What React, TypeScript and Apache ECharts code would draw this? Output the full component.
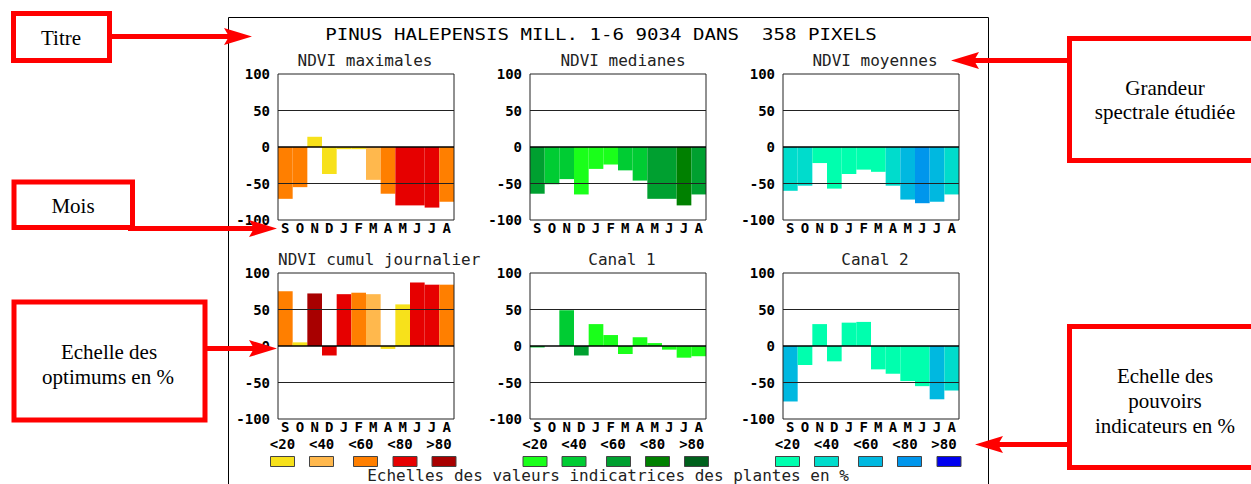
import React, { useEffect, useRef } from "react";
import * as echarts from "echarts";

// ---------- data ----------
const MONTHS = ["S", "O", "N", "D", "J", "F", "M", "A", "M", "J", "J", "A"];
const TICKS = [-100, -50, 0, 50, 100];
const TITLE = "PINUS HALEPENSIS MILL. 1-6 9034 DANS  358 PIXELS";
const FOOTER = "Echelles des valeurs indicatrices des plantes en %";
const PANEL_TITLES = [
  "NDVI maximales",
  "NDVI medianes",
  "NDVI moyennes",
  "NDVI cumul journalier",
  "Canal 1",
  "Canal 2",
];
const LEGEND_LABELS = ["<20", "<40", "<60", "<80", ">80"];

// values (%), and class index (0..4 -> <20 .. >80) per month
const MAX_VALUES = [-71, -55, 14, -37, -3, -3, -45, -64, -80, -80, -83, -75];
const MAX_CLASSES = [2, 2, 0, 0, 0, 0, 1, 2, 3, 3, 3, 2];
const MED_VALUES = [-64, -51, -44, -65, -30, -24, -32, -46, -71, -71, -80, -65];
const MED_CLASSES = [2, 1, 1, 0, 0, 0, 1, 1, 2, 2, 3, 2];
const MOY_VALUES = [-60, -53, -22, -57, -37, -31, -34, -53, -72, -77, -75, -65];
const MOY_CLASSES = [1, 1, 0, 0, 0, 0, 0, 1, 2, 3, 2, 1];
const CUM_VALUES = [75, 5, 72, -13, 71, 73, 71, -4, 57, 87, 84, 84];
const CUM_CLASSES = [2, 0, 4, 3, 3, 2, 1, 0, 0, 3, 3, 2];
const C1_VALUES = [-2, 0, 49, -13, 30, 15, -11, 12, 4, -5, -16, -14];
const C1_CLASSES = [1, 0, 1, 2, 0, 0, 0, 0, 0, 0, 0, 0];
const C2_VALUES = [-76, -26, 30, -21, 32, 33, -32, -38, -48, -55, -73, -61];
const C2_CLASSES = [2, 0, 0, 0, 0, 0, 0, 0, 0, 0, 2, 1];

// ---------- styles ----------
const WARM = ["#f7e11b", "#ffb84d", "#ff7f00", "#e60000", "#a80000"];
const GREEN = ["#1aff1a", "#00cc33", "#00a030", "#008000", "#00601c"];
const BLUE = ["#00ffae", "#00dccc", "#00b8e0", "#0096ec", "#0000f0"];
const RED = "#ff0000";
const MONO = "DejaVu Sans Mono";
const SERIF = "Liberation Serif";

const GRID_LEFT = [278, 530, 783];
const GRID_TOP = [74, 273];
const GRID_W = 176;
const GRID_H = 146;

const PANELS = [
  { values: MAX_VALUES, classes: MAX_CLASSES, palette: WARM },
  { values: MED_VALUES, classes: MED_CLASSES, palette: GREEN },
  { values: MOY_VALUES, classes: MOY_CLASSES, palette: BLUE },
  { values: CUM_VALUES, classes: CUM_CLASSES, palette: WARM },
  { values: C1_VALUES, classes: C1_CLASSES, palette: GREEN },
  { values: C2_VALUES, classes: C2_CLASSES, palette: BLUE },
];

const SUBTITLE_POS = [
  { x: 365, y: 60, align: "center" },
  { x: 623, y: 60, align: "center" },
  { x: 875, y: 60, align: "center" },
  { x: 278, y: 259, align: "left" },
  { x: 622, y: 259, align: "center" },
  { x: 875, y: 259, align: "center" },
];

const LEGEND_PALETTES = [WARM, GREEN, BLUE];
const LEGEND_LABEL_X = [
  [282.5, 321.6, 360.8, 400, 439],
  [535, 574, 613, 652.5, 691.8],
  [787.5, 826.5, 865.8, 905, 944],
];
const LEGEND_BOX_X = [
  [270, 309, 353, 392.5, 431.5],
  [522.5, 561.5, 606, 645, 684],
  [775, 814, 858, 897, 936.5],
];

function txt(
  text: string,
  x: number,
  y: number,
  o: { size?: number; family?: string; weight?: string; align?: string; fill?: string; scaleX?: number } = {}
) {
  const align = o.align || "center";
  return {
    type: "text",
    x,
    y,
    scaleX: o.scaleX || 1,
    z: 20,
    silent: true,
    style: {
      text,
      x: 0,
      y: 0,
      fill: o.fill || "#000",
      fontSize: o.size || 16,
      fontFamily: o.family || MONO,
      fontWeight: o.weight || "normal",
      align,
      textAlign: align,
      verticalAlign: "middle",
      textVerticalAlign: "middle",
    },
  };
}

function redRect(x: number, y: number, w: number, h: number) {
  return {
    type: "rect",
    z: 15,
    silent: true,
    shape: { x, y, width: w, height: h },
    style: { fill: "none", stroke: RED, lineWidth: 5 },
  };
}

function redLine(x1: number, y1: number, x2: number, y2: number) {
  return {
    type: "line",
    z: 15,
    silent: true,
    shape: { x1, y1, x2, y2 },
    style: { stroke: RED, lineWidth: 5 },
  };
}

function arrowHead(tipX: number, y: number, dir: number) {
  // dir = 1 pointing right, -1 pointing left
  const back = tipX - dir * 28;
  const notch = tipX - dir * 23;
  return {
    type: "polygon",
    z: 16,
    silent: true,
    shape: {
      points: [
        [back, y - 8.5],
        [tipX, y],
        [back, y + 8.5],
        [notch, y],
      ],
    },
    style: { fill: RED },
  };
}

function buildOption() {
  const grids: any[] = [];
  const xAxes: any[] = [];
  const yAxes: any[] = [];
  const series: any[] = [];

  PANELS.forEach((p, i) => {
    const col = i % 3;
    const row = Math.floor(i / 3);
    grids.push({
      left: GRID_LEFT[col],
      top: GRID_TOP[row],
      width: GRID_W,
      height: GRID_H,
      show: true,
      z: 5,
      backgroundColor: "transparent",
      borderColor: "#222",
      borderWidth: 1,
    });
    xAxes.push({
      type: "category",
      gridIndex: i,
      data: MONTHS,
      axisLine: { show: false },
      axisTick: { show: false },
      splitLine: { show: false },
      axisLabel: {
        interval: 0,
        margin: 1,
        color: "#000",
        fontFamily: MONO,
        fontWeight: "bold",
        fontSize: 14,
      },
    });
    yAxes.push({
      type: "value",
      gridIndex: i,
      min: TICKS[0],
      max: TICKS[TICKS.length - 1],
      interval: 50,
      axisLine: { show: false },
      axisTick: { show: false },
      splitLine: { show: false },
      axisLabel: {
        margin: 8,
        color: "#000",
        fontFamily: MONO,
        fontWeight: "bold",
        fontSize: 14,
      },
    });
    series.push({
      type: "bar",
      xAxisIndex: i,
      yAxisIndex: i,
      barCategoryGap: "0%",
      barWidth: "100%",
      data: p.values.map((v, k) => ({
        value: v,
        itemStyle: { color: p.palette[p.classes[k]] },
      })),
      markLine: {
        silent: true,
        symbol: ["none", "none"],
        label: { show: false },
        emphasis: { disabled: true },
        data: [
          { yAxis: 50, lineStyle: { color: "#222", width: 1, type: "solid" } },
          { yAxis: 0, lineStyle: { color: "#000", width: 1.6, type: "solid" } },
          { yAxis: -50, lineStyle: { color: "#222", width: 1, type: "solid" } },
        ],
      },
    });
  });

  const graphics: any[] = [];
  // outer frame
  graphics.push({
    type: "rect",
    z: 1,
    silent: true,
    shape: { x: 228.5, y: 17.5, width: 760, height: 520 },
    style: { fill: "none", stroke: "#000", lineWidth: 1 },
  });
  // main title
  graphics.push(txt(TITLE, 601, 35, { size: 16, scaleX: 1.194, fill: "#000" }));
  // panel titles
  PANEL_TITLES.forEach((t, i) => {
    const p = SUBTITLE_POS[i];
    graphics.push(txt(t, p.x, p.y, { size: 16, align: p.align, fill: "#222" }));
  });
  // legends
  LEGEND_PALETTES.forEach((pal, g) => {
    LEGEND_LABELS.forEach((lab, k) => {
      graphics.push(txt(lab, LEGEND_LABEL_X[g][k], 444, { size: 14, weight: "bold" }));
      graphics.push({
        type: "rect",
        z: 10,
        silent: true,
        shape: { x: LEGEND_BOX_X[g][k] + 0.5, y: 456.5, width: 24, height: 10 },
        style: { fill: pal[k], stroke: "#444", lineWidth: 1 },
      });
    });
  });
  // footer
  graphics.push(txt(FOOTER, 608, 475, { size: 16, fill: "#222" }));

  // annotations (left)
  graphics.push(redRect(13.5, 13.5, 96, 47));
  graphics.push(txt("Titre", 61, 38, { size: 21, family: SERIF }));
  graphics.push(redLine(112, 36.5, 232, 36.5));
  graphics.push(arrowHead(252, 36.5, 1));

  graphics.push(redRect(14, 182, 118.5, 45.5));
  graphics.push(txt("Mois", 73, 206, { size: 21, family: SERIF }));
  graphics.push(redLine(128, 228.5, 254, 228.5));
  graphics.push(arrowHead(277, 228.5, 1));

  graphics.push(redRect(14, 302, 191, 118));
  graphics.push(txt("Echelle des", 109, 352, { size: 21, family: SERIF }));
  graphics.push(txt("optimums en %", 108, 377, { size: 21, family: SERIF }));
  graphics.push(redLine(207, 348.5, 254, 348.5));
  graphics.push(arrowHead(277, 348.5, 1));

  // annotations (right)
  graphics.push(redRect(1069.5, 38.5, 300, 122));
  graphics.push(txt("Grandeur", 1165, 88, { size: 21, family: SERIF }));
  graphics.push(txt("spectrale étudiée", 1165, 112, { size: 21, family: SERIF }));
  graphics.push(redLine(1067, 60.5, 972, 60.5));
  graphics.push(arrowHead(951, 60.5, -1));

  graphics.push(redRect(1069.5, 326.5, 300, 141));
  graphics.push(txt("Echelle des", 1165, 376, { size: 21, family: SERIF }));
  graphics.push(txt("pouvoirs", 1165, 401, { size: 21, family: SERIF }));
  graphics.push(txt("indicateurs en %", 1165, 426, { size: 21, family: SERIF }));
  graphics.push(redLine(1067, 444.5, 996, 444.5));
  graphics.push(arrowHead(975, 444.5, -1));

  return {
    animation: false,
    backgroundColor: "#fff",
    grid: grids,
    xAxis: xAxes,
    yAxis: yAxes,
    series,
    graphic: { elements: graphics },
  };
}

export default function App() {
  const ref = useRef<HTMLDivElement>(null);
  useEffect(() => {
    if (!ref.current) return;
    const chart = echarts.init(ref.current, undefined, { renderer: "svg" });
    chart.setOption(buildOption() as any);
    return () => chart.dispose();
  }, []);
  return (
    <div
      ref={ref}
      style={{ position: "fixed", left: 0, top: 0, width: 1251, height: 484 }}
    />
  );
}
